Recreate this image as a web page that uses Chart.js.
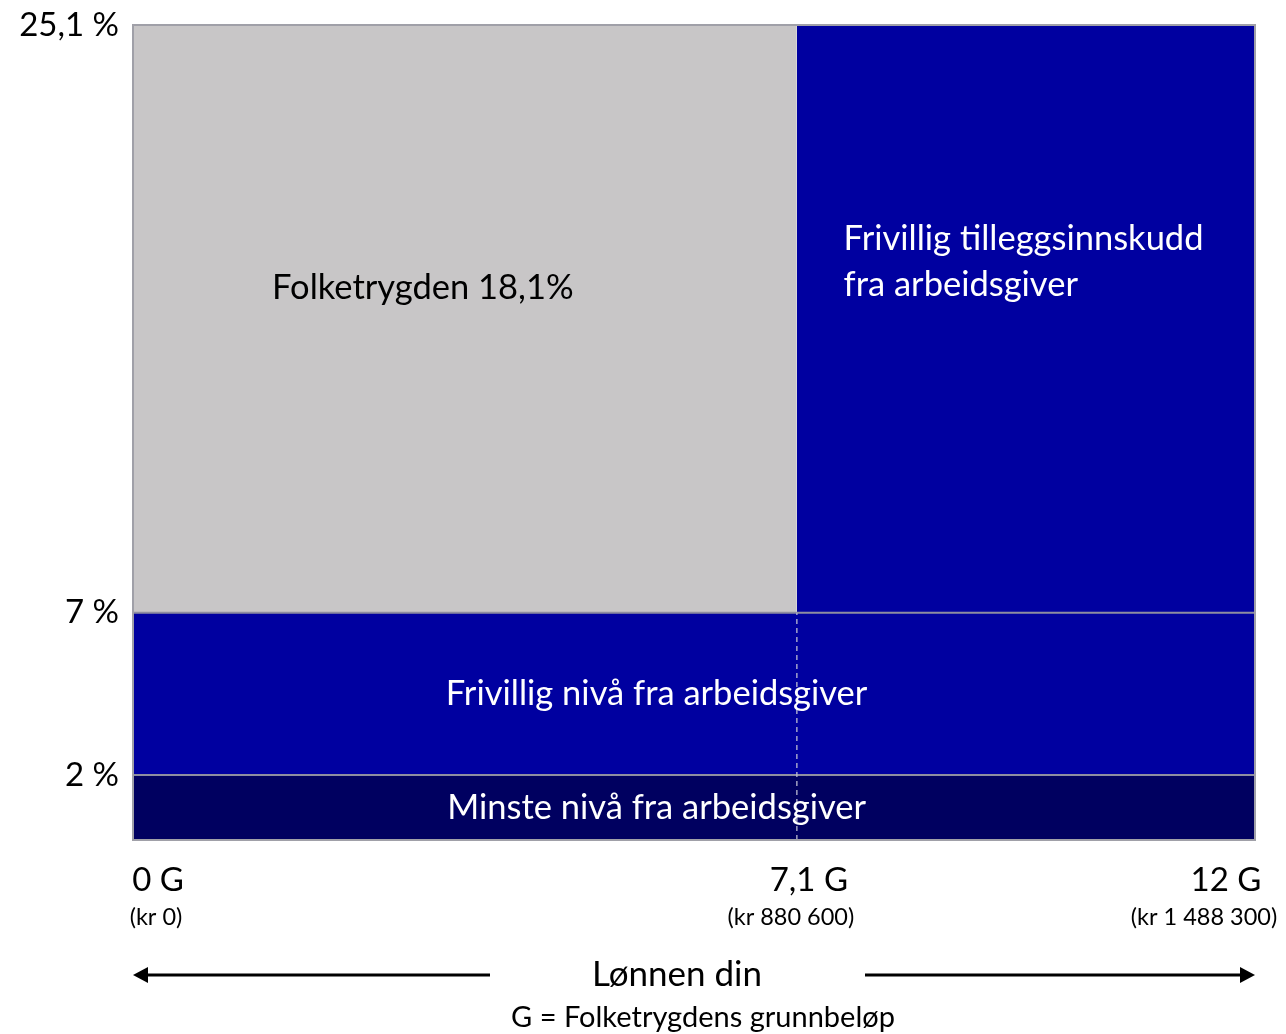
<!DOCTYPE html>
<html>
<head>
<meta charset="utf-8">
<script src="https://cdn.jsdelivr.net/npm/chart.js@4/dist/chart.umd.min.js"></script>
<style>
  html, body { margin: 0; padding: 0; background: #fff; }
  #wrap { width: 1286px; height: 1034px; }
</style>
</head>
<body>
<div id="wrap"><canvas id="chart" width="1286" height="1034"></canvas></div>
<script>
'use strict';

/* --- Data --- */
const xMax = 12;            // G
const splitG = 7.1;         // G
const yMax = 25.1;          // %
const minLevel = 2;         // %
const voluntaryLevel = 7;   // %

const yTicks = [2, 7, 25.1];
const yTickLabels = ['2 %', '7 %', '25,1 %'];
const xTicks = [0, 7.1, 12];
const xTickLabels = ['0 G', '7,1 G', '12 G'];
const xSubLabels = ['(kr 0)', '(kr 880 600)', '(kr 1 488 300)'];

const boxTexts = [
  ['Folketrygden 18,1%'],
  ['Frivillig tilleggsinnskudd', 'fra arbeidsgiver'],
  ['Frivillig nivå fra arbeidsgiver'],
  ['Minste nivå fra arbeidsgiver']
];
const boxAnchorX = [3.1, 7.6, 5.6, 5.6];
const boxAnchorY = [17, 17.8, 4.5, 1];

const axisTitle = 'Lønnen din';
const axisNote = 'G = Folketrygdens grunnbeløp';

/* --- Styles --- */
const FONT = 'Lato, "Open Sans", sans-serif';
const GRAY = '#C8C6C7';
const BLUE = '#0000A0';
const NAVY = '#000060';
const EDGE = '#8E8EA0';

const labelsPlugin = {
  id: 'labels',
  afterDraw(chart) {
    const { ctx, chartArea: a, scales: { x, y } } = chart;
    ctx.save();

    // outer frame
    ctx.strokeStyle = '#A0A0A8';
    ctx.lineWidth = 2;
    ctx.strokeRect(a.left, a.top, a.right - a.left, a.bottom - a.top);

    // box texts
    const aligns = ['center', 'left', 'center', 'center'];
    const colors = ['#000', '#fff', '#fff', '#fff'];
    ctx.font = '34.5px ' + FONT;
    ctx.textBaseline = 'middle';
    boxTexts.forEach((lines, i) => {
      ctx.fillStyle = colors[i];
      ctx.textAlign = aligns[i];
      const cx = x.getPixelForValue(boxAnchorX[i]);
      const cy = y.getPixelForValue(boxAnchorY[i]);
      lines.forEach((t, j) => ctx.fillText(t, cx, cy + (j - (lines.length - 1) / 2) * 46));
    });

    // y ticks
    ctx.fillStyle = '#000';
    ctx.textAlign = 'right';
    ctx.font = '33px ' + FONT;
    yTicks.forEach((v, i) => ctx.fillText(yTickLabels[i], a.left - 14, y.getPixelForValue(v)));

    // x ticks
    const mainOff = [25, 12, -29];
    const subOff = [23, -6, -51];
    ctx.textAlign = 'center';
    xTicks.forEach((v, i) => {
      const px = x.getPixelForValue(v);
      ctx.font = '33px ' + FONT;
      ctx.fillText(xTickLabels[i], px + mainOff[i], a.bottom + 40);
      ctx.font = '23.5px ' + FONT;
      ctx.fillText(xSubLabels[i], px + subOff[i], a.bottom + 77);
    });

    // arrows + axis title
    const ay = a.bottom + 135;
    ctx.strokeStyle = '#000';
    ctx.fillStyle = '#000';
    ctx.lineWidth = 3;
    ctx.beginPath();
    ctx.moveTo(490, ay); ctx.lineTo(a.left + 12, ay);
    ctx.moveTo(865, ay); ctx.lineTo(a.right - 12, ay);
    ctx.stroke();
    ctx.beginPath();
    ctx.moveTo(a.left, ay); ctx.lineTo(a.left + 15, ay - 8); ctx.lineTo(a.left + 15, ay + 8); ctx.closePath();
    ctx.moveTo(a.right, ay); ctx.lineTo(a.right - 15, ay - 8); ctx.lineTo(a.right - 15, ay + 8); ctx.closePath();
    ctx.fill();

    ctx.font = '35px ' + FONT;
    ctx.fillText(axisTitle, 677, ay);
    ctx.font = '29px ' + FONT;
    ctx.fillText(axisNote, 703, ay + 43);
    ctx.restore();
  }
};

const noPt = { pointRadius: 0, pointHoverRadius: 0, tension: 0 };

new Chart(document.getElementById('chart'), {
  type: 'line',
  data: {
    datasets: [
      { ...noPt, order: 0, data: [{ x: splitG, y: 0 }, { x: splitG, y: voluntaryLevel }],
        fill: false, borderColor: 'rgba(190,190,210,0.85)', borderWidth: 1.5, borderDash: [5, 4] },
      { ...noPt, order: 1, data: [{ x: 0, y: minLevel }, { x: xMax, y: minLevel }],
        fill: 'origin', backgroundColor: NAVY, borderColor: EDGE, borderWidth: 2 },
      { ...noPt, order: 2, data: [{ x: 0, y: voluntaryLevel }, { x: xMax, y: voluntaryLevel }],
        fill: { value: minLevel }, backgroundColor: BLUE, borderColor: EDGE, borderWidth: 2 },
      { ...noPt, order: 3, data: [{ x: 0, y: yMax }, { x: splitG, y: yMax }],
        fill: { value: voluntaryLevel }, backgroundColor: GRAY, borderWidth: 0 },
      { ...noPt, order: 4, data: [{ x: splitG, y: yMax }, { x: xMax, y: yMax }],
        fill: { value: voluntaryLevel }, backgroundColor: BLUE, borderWidth: 0 }
    ]
  },
  options: {
    responsive: false,
    animation: false,
    layout: { padding: { left: 133, right: 31, top: 25, bottom: 194 } },
    scales: {
      x: { type: 'linear', min: 0, max: xMax, display: false },
      y: { type: 'linear', min: 0, max: yMax, display: false }
    },
    plugins: { legend: { display: false }, tooltip: { enabled: false } }
  },
  plugins: [labelsPlugin]
});
</script>
</body>
</html>
